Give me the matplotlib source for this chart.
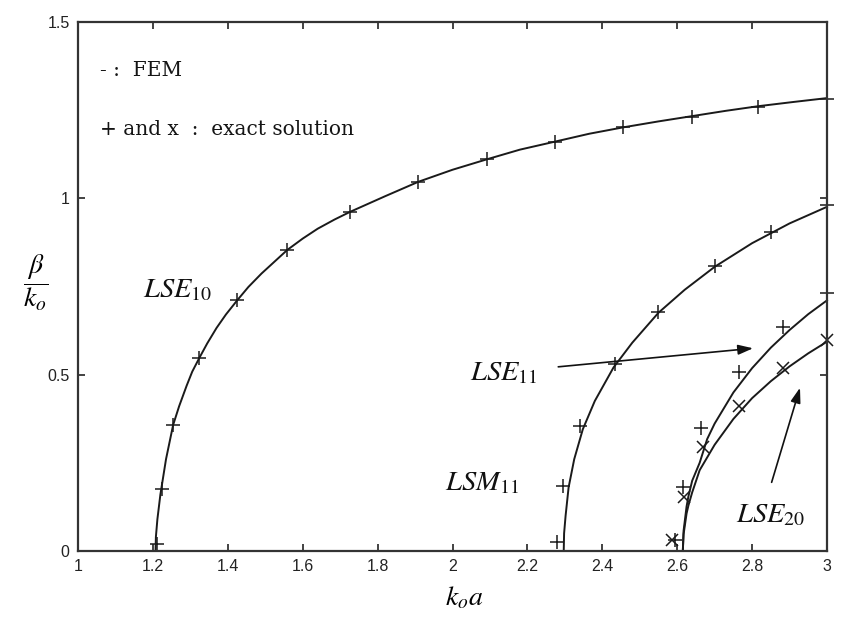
import matplotlib
matplotlib.use("Agg")
import matplotlib.pyplot as plt

plt.rcParams['mathtext.fontset'] = 'stix'

# ---------------- data ----------------
# FEM curves (solid lines)
fem_lse10_x = [1.207, 1.208, 1.212, 1.22, 1.235, 1.254, 1.27, 1.29, 1.305, 1.324, 1.345, 1.37,
               1.395, 1.425, 1.455, 1.49, 1.525, 1.559, 1.60, 1.64, 1.685, 1.727, 1.82, 1.909,
               2.0, 2.093, 2.18, 2.275, 2.365, 2.455, 2.55, 2.64, 2.73, 2.816, 2.91, 3.0]
fem_lse10_y = [0.0, 0.04, 0.09, 0.16, 0.26, 0.357, 0.41, 0.468, 0.508, 0.547, 0.588, 0.632,
               0.67, 0.71, 0.748, 0.786, 0.82, 0.853, 0.885, 0.913, 0.939, 0.961, 1.005, 1.046,
               1.08, 1.11, 1.137, 1.16, 1.182, 1.20, 1.217, 1.232, 1.247, 1.26, 1.272, 1.283]

fem_lsm11_x = [2.297, 2.298, 2.302, 2.31, 2.325, 2.348, 2.38, 2.43, 2.48, 2.55, 2.62, 2.70,
               2.80, 2.90, 3.0]
fem_lsm11_y = [0.0, 0.05, 0.10, 0.18, 0.26, 0.345, 0.425, 0.52, 0.59, 0.675, 0.74, 0.805,
               0.872, 0.928, 0.975]

fem_lse11_x = [2.615, 2.617, 2.625, 2.63, 2.64, 2.66, 2.68, 2.70, 2.75, 2.80, 2.85, 2.90, 2.95, 3.0]
fem_lse11_y = [0.0, 0.057, 0.126, 0.155, 0.199, 0.25, 0.317, 0.361, 0.449, 0.518, 0.576, 0.626, 0.671, 0.71]

fem_lse20_x = [2.615, 2.617, 2.625, 2.63, 2.64, 2.66, 2.68, 2.70, 2.75, 2.80, 2.85, 2.90, 2.95, 3.0]
fem_lse20_y = [0.0, 0.047, 0.106, 0.129, 0.166, 0.229, 0.265, 0.301, 0.374, 0.433, 0.481, 0.523, 0.56, 0.593]

# exact solution markers
ex_lse10_x = [1.21, 1.225, 1.254, 1.324, 1.425, 1.559, 1.727, 1.909, 2.093, 2.275, 2.455, 2.64, 2.816, 3.0]
ex_lse10_y = [0.02, 0.176, 0.357, 0.547, 0.71, 0.853, 0.96, 1.046, 1.11, 1.16, 1.20, 1.229, 1.258, 1.28]

ex_lsm11_x = [2.278, 2.294, 2.34, 2.433, 2.55, 2.70, 2.85, 3.0]
ex_lsm11_y = [0.026, 0.184, 0.355, 0.53, 0.677, 0.807, 0.904, 0.98]

ex_lse11_x = [2.595, 2.615, 2.663, 2.765, 2.882, 3.0]
ex_lse11_y = [0.03, 0.18, 0.348, 0.507, 0.635, 0.73]

ex_lse20_x = [2.585, 2.618, 2.668, 2.765, 2.882, 3.0]
ex_lse20_y = [0.03, 0.153, 0.295, 0.41, 0.518, 0.598]

x_ticks = [1, 1.2, 1.4, 1.6, 1.8, 2, 2.2, 2.4, 2.6, 2.8, 3]
x_tick_labels = ['1', '1.2', '1.4', '1.6', '1.8', '2', '2.2', '2.4', '2.6', '2.8', '3']
y_ticks = [0, 0.5, 1, 1.5]
y_tick_labels = ['0', '0.5', '1', '1.5']

# ---------------- figure ----------------
fig = plt.figure(figsize=(8.44, 6.25), dpi=100)
ax = fig.add_axes([78/844, 1-551/625, (827-78)/844, (551-21.5)/625])

lc = '#1a1a1a'
for fx, fy in [(fem_lse10_x, fem_lse10_y), (fem_lsm11_x, fem_lsm11_y),
               (fem_lse11_x, fem_lse11_y), (fem_lse20_x, fem_lse20_y)]:
    ax.plot(fx, fy, color=lc, lw=1.4, solid_joinstyle='round', clip_on=False)

for mx, my in [(ex_lse10_x, ex_lse10_y), (ex_lsm11_x, ex_lsm11_y), (ex_lse11_x, ex_lse11_y)]:
    ax.plot(mx, my, linestyle='none', marker='+', ms=10, mew=1.1, color=lc, clip_on=False)
ax.plot(ex_lse20_x, ex_lse20_y, linestyle='none', marker='x', ms=8, mew=1.1, color=lc, clip_on=False)

ax.set_xlim(1, 3)
ax.set_ylim(0, 1.5)
ax.set_xticks(x_ticks)
ax.set_xticklabels(x_tick_labels)
ax.set_yticks(y_ticks)
ax.set_yticklabels(y_tick_labels)
ax.tick_params(direction='in', length=5, width=1.2, top=True, right=True,
               labelsize=11.5, colors='#222222', pad=6)
for lab in ax.get_xticklabels() + ax.get_yticklabels():
    lab.set_family('Liberation Sans')
for s in ax.spines.values():
    s.set_linewidth(1.6)
    s.set_color('#333333')

# legend text
ax.text(1.06, 1.36, '- :  FEM', family='DejaVu Serif', fontsize=14.5, color='#151515',
        va='center', ha='left')
ax.text(1.06, 1.193, '+ and x  :  exact solution', family='DejaVu Serif', fontsize=14.5,
        color='#151515', va='center', ha='left')

# curve labels
lab_kw = dict(fontsize=20.5, color='#111111', ha='left', va='baseline')
ax.text(1.174, 0.717, r'$LSE_{10}$', **lab_kw)
ax.text(2.048, 0.484, r'$LSE_{11}$', **lab_kw)
ax.text(1.981, 0.173, r'$LSM_{11}$', **lab_kw)
ax.text(2.757, 0.082, r'$LSE_{20}$', **lab_kw)

# arrows
arr_kw = dict(arrowstyle='-|>,head_length=0.9,head_width=0.3', color='#111111', lw=1.2)
ax.annotate('', xy=(2.81, 0.575), xytext=(2.275, 0.521), arrowprops=arr_kw)
ax.annotate('', xy=(2.93, 0.47), xytext=(2.85, 0.187), arrowprops=arr_kw)

# axis labels
fig.text(36/844, 1-283/625, r'$\dfrac{\beta}{k_{o}}$', fontsize=20, ha='center', va='center')
fig.text(464/844, 1-597/625, r'$k_{o}a$', fontsize=20, ha='center', va='center')

fig.savefig('out.png', dpi=100, facecolor='white')
